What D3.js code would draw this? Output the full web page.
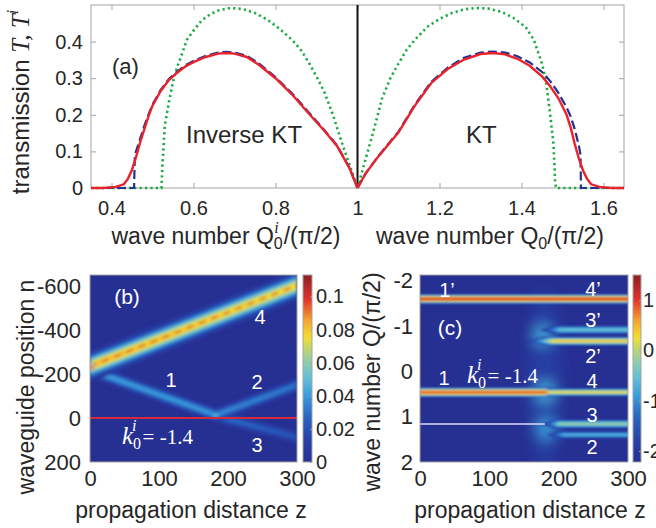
<!DOCTYPE html>
<html><head><meta charset="utf-8">
<script src="https://cdn.jsdelivr.net/npm/d3@7"></script>
<style>
body{margin:0;background:#fff;}
svg text{font-family:"Liberation Sans",Arial,Helvetica,sans-serif;}
</style></head><body>
<svg id="fig" width="656" height="528"></svg>
<script>
// ================= DATA =================
// Panel (a): transmission vs wave number
const aXTicks = [0.4, 0.6, 0.8, 1, 1.2, 1.4, 1.6];
const aYTicks = [0, 0.1, 0.2, 0.3, 0.4];
// left half: Q0^i (inverse KT); right half: Q0 (KT)
const redLeft = [[0.35,0],[0.38,0],[0.41,0.003],[0.43,0.01],[0.44,0.025],[0.45,0.05],[0.46,0.085],[0.47,0.125],[0.48,0.16],[0.49,0.195],[0.50,0.225],[0.52,0.265],[0.54,0.295],[0.56,0.315],[0.58,0.332],[0.60,0.344],[0.63,0.358],[0.66,0.367],[0.68,0.369],[0.70,0.367],[0.73,0.358],[0.76,0.336],[0.80,0.30],[0.84,0.256],[0.88,0.205],[0.92,0.155],[0.95,0.115],[0.98,0.055],[1.0,0]];
const blueLeft = [[0.35,0],[0.455,0],[0.457,0.09],[0.47,0.135],[0.48,0.17],[0.49,0.2],[0.50,0.228],[0.52,0.268],[0.54,0.298],[0.56,0.318],[0.58,0.335],[0.60,0.347],[0.63,0.361],[0.66,0.37],[0.68,0.372],[0.70,0.37],[0.73,0.361],[0.76,0.34],[0.80,0.303],[0.84,0.259],[0.88,0.208],[0.92,0.157],[0.95,0.117],[0.98,0.056],[1.0,0]];
const greenLeft = [[0.35,0],[0.522,0],[0.524,0.06],[0.53,0.17],[0.54,0.235],[0.55,0.29],[0.56,0.33],[0.57,0.36],[0.584,0.405],[0.60,0.43],[0.62,0.458],[0.64,0.474],[0.66,0.485],[0.69,0.492],[0.72,0.489],[0.75,0.478],[0.78,0.46],[0.81,0.435],[0.84,0.405],[0.86,0.38],[0.88,0.345],[0.90,0.305],[0.92,0.26],[0.94,0.2],[0.96,0.13],[0.98,0.065],[1.0,0]];
const redRight = [[1.0,0],[1.02,0.04],[1.05,0.085],[1.08,0.125],[1.10,0.152],[1.14,0.225],[1.18,0.287],[1.22,0.325],[1.26,0.351],[1.30,0.366],[1.33,0.369],[1.36,0.365],[1.39,0.353],[1.42,0.334],[1.45,0.305],[1.47,0.278],[1.49,0.245],[1.51,0.2],[1.52,0.165],[1.53,0.12],[1.54,0.08],[1.55,0.048],[1.56,0.025],[1.57,0.01],[1.59,0.003],[1.62,0],[1.65,0]];
const blueRight = [[1.0,0],[1.02,0.04],[1.05,0.086],[1.08,0.127],[1.10,0.154],[1.14,0.228],[1.18,0.29],[1.22,0.329],[1.26,0.356],[1.30,0.37],[1.33,0.373],[1.36,0.37],[1.39,0.36],[1.42,0.343],[1.45,0.317],[1.47,0.292],[1.49,0.26],[1.51,0.22],[1.52,0.195],[1.53,0.16],[1.54,0.115],[1.544,0.09],[1.545,0],[1.65,0]];
const greenRight = [[1.0,0],[1.02,0.08],[1.04,0.16],[1.06,0.245],[1.08,0.30],[1.10,0.34],[1.12,0.378],[1.14,0.405],[1.17,0.44],[1.20,0.462],[1.23,0.478],[1.26,0.488],[1.29,0.492],[1.32,0.49],[1.35,0.482],[1.38,0.465],[1.41,0.44],[1.43,0.405],[1.45,0.34],[1.46,0.29],[1.47,0.2],[1.478,0.12],[1.482,0.02],[1.484,0],[1.65,0]];

// Panel (b): intensity |psi_n(z)|^2
const bXTicks = [0, 100, 200, 300];
const bYTicks = [-600, -400, -200, 0, 200];
const bCbTicks = [0, 0.02, 0.04, 0.06, 0.08, 0.1];
const bCbLabels = ["0", "0.02", "0.04", "0.06", "0.08", "0.1"];
const bCbMax = 0.113;
// beams: start/end (z, n), peak intensity at start/end, gaussian width (n units), peak of core streaks
const beams = [
  {name:"3", z0:181, n0:-10, z1:300, n1:88,   p0:0.03,  p1:0.022, s:17, streak:0},
  {name:"2", z0:181, n0:-12, z1:300, n1:-150, p0:0.038, p1:0.033, s:17, streak:0},
  {name:"1", z0:0,   n0:-218, z1:182, n1:-14, p0:0.043, p1:0.041, s:17, streak:0},
  {name:"4", z0:0,   n0:-235, z1:300, n1:-603, p0:0.085, p1:0.079, s:30, streak:0.1}
];
const bSpots = [{z:182, n:-12, v:0.052, rz:12, rn:16}, {z:2, n:-230, v:0.105, rz:6, rn:24}];
const bDefectN = 0;

// Panel (c): log10 of spectrum intensity
const cXTicks = [0, 100, 200, 300];
const cYTicks = [-2, -1, 0, 1, 2];
const cCbTicks = [-2, -1, 0, 1];
const cCbMin = -2.22, cCbMax = 1.5;
const bands = [
  {name:"1'4'", q:-1.60, z0:0,   z1:300, peak:1.2,   hw:0.11, taper:0},
  {name:"3'",   q:-0.92, z0:168, z1:300, peak:-0.4,  hw:0.1,  taper:35},
  {name:"2'",   q:-0.67, z0:148, z1:300, peak:0.5,   hw:0.1,  taper:45},
  {name:"1",    q:0.46,  z0:0,   z1:186, peak:1.05,  hw:0.11, taper:0},
  {name:"4",    q:0.46,  z0:186, z1:300, peak:0.35,  hw:0.09, taper:0},
  {name:"3",    q:1.16,  z0:172, z1:300, peak:-0.1,  hw:0.1,  taper:30},
  {name:"2",    q:1.40,  z0:178, z1:300, peak:-0.6,  hw:0.085, taper:30}
];
const cGlows = [
  {z:180, q:0.2,   rz:24, rq:2.0,  v:-1.9},
  {z:180, q:0.46,  rz:14, rq:0.25, v:-0.8},
  {z:176, q:-0.8,  rz:14, rq:0.22, v:-0.8},
  {z:182, q:1.26,  rz:14, rq:0.24, v:-0.9}
];
const cDefectQ = 1.16, cDefectZ1 = 180;

// ================= STYLE =================
const sans = '"Liberation Sans", Arial, Helvetica, sans-serif';
const serif = '"Liberation Serif", "Times New Roman", Times, serif';
const frameCol = "#a3a3a3", textCol = "#262626";
const cmapScale = d3.scaleLinear()
  .domain([0, 0.12, 0.25, 0.36, 0.45, 0.53, 0.61, 0.67, 0.76, 0.87, 1])
  .range(["#262f92","#2841aa","#2b68c4","#3b9edc","#62bfd8","#8ecbb0","#c3d66a","#f5de2d","#f5a030","#e3302b","#8a2222"])
  .clamp(true);
const cmap = t => cmapScale(t);

const svg = d3.select("#fig");
const defs = svg.append("defs");
const grad = defs.append("linearGradient").attr("id","cmapGrad").attr("x1",0).attr("y1",1).attr("x2",0).attr("y2",0);
d3.range(0, 1.0001, 0.02).forEach(t => grad.append("stop").attr("offset", t).attr("stop-color", cmap(t)));
defs.append("filter").attr("id","blur1").attr("x","-20%").attr("y","-20%").attr("width","140%").attr("height","140%")
  .append("feGaussianBlur").attr("stdDeviation",1.4);
defs.append("filter").attr("id","blurC").attr("x","-20%").attr("y","-20%").attr("width","140%").attr("height","140%")
  .append("feGaussianBlur").attr("stdDeviation","1.6 0.8");
defs.append("filter").attr("id","blur6").attr("x","-50%").attr("y","-50%").attr("width","200%").attr("height","200%")
  .append("feGaussianBlur").attr("stdDeviation",7);

function styleAxis(g, fs){
  g.select(".domain").remove();
  g.selectAll(".tick line").attr("stroke", frameCol);
  g.selectAll(".tick text").attr("fill", textCol).style("font-size", fs+"px").style("font-family", sans);
}
const fmt = d => String(d);
const none = () => "";

// ================= PANEL (a) =================
const ax = d3.scaleLinear().domain([0.35, 1.65]).range([91, 624]);
const ay = d3.scaleLinear().domain([0, 0.5]).range([188, 5]);
const gA = svg.append("g");
styleAxis(gA.append("g").attr("transform","translate(0,188)")
  .call(d3.axisBottom(ax).tickValues(aXTicks).tickFormat(fmt).tickSizeInner(-5).tickSizeOuter(0).tickPadding(13)), 20);
styleAxis(gA.append("g").attr("transform","translate(0,5)")
  .call(d3.axisTop(ax).tickValues(aXTicks).tickFormat(none).tickSizeInner(-5).tickSizeOuter(0)), 20);
styleAxis(gA.append("g").attr("transform","translate(91,0)")
  .call(d3.axisLeft(ay).tickValues(aYTicks).tickFormat(fmt).tickSizeInner(-5).tickSizeOuter(0).tickPadding(8)), 20);
styleAxis(gA.append("g").attr("transform","translate(624,0)")
  .call(d3.axisRight(ay).tickValues(aYTicks).tickFormat(none).tickSizeInner(-5).tickSizeOuter(0)), 20);
gA.append("rect").attr("x",91).attr("y",5).attr("width",533).attr("height",183).attr("fill","none").attr("stroke",frameCol);

const lineA = d3.line().x(d => ax(d[0])).y(d => ay(d[1]));
const gCurves = gA.append("g");
gCurves.append("line").attr("x1",ax(1)).attr("x2",ax(1)).attr("y1",ay(0)).attr("y2",ay(0.5)).attr("stroke","#111").attr("stroke-width",2);
[greenLeft, greenRight].forEach(d => gCurves.append("path").attr("d", lineA(d)).attr("fill","none")
  .attr("stroke","#1daa44").attr("stroke-width",2.6).attr("stroke-dasharray","2.2,3.2"));
[blueLeft, blueRight].forEach(d => gCurves.append("path").attr("d", lineA(d)).attr("fill","none")
  .attr("stroke","#22308f").attr("stroke-width",2.2).attr("stroke-dasharray","9,4"));
[redLeft, redRight].forEach(d => gCurves.append("path").attr("d", lineA(d)).attr("fill","none")
  .attr("stroke","#e8232c").attr("stroke-width",2.4));

gA.append("text").attr("x",112).attr("y",74).style("font-size","22px").attr("fill",textCol).text("(a)");
gA.append("text").attr("x",186).attr("y",143).style("font-size","24px").attr("fill",textCol).text("Inverse KT");
gA.append("text").attr("x",466).attr("y",143).style("font-size","24px").attr("fill",textCol).text("KT");

const ylA = gA.append("text").attr("transform","translate(29,102) rotate(-90)").attr("text-anchor","middle")
  .style("font-size","24px").attr("fill",textCol);
ylA.append("tspan").text("transmission ");
ylA.append("tspan").style("font-family",serif).style("font-style","italic").style("font-size","25px").text("T, T");
ylA.append("tspan").style("font-family",serif).style("font-style","italic").style("font-size","16px").attr("dy",-11).text("i");

const xlA1 = gA.append("text").attr("x",226).attr("y",244).attr("text-anchor","middle").style("font-size","23px").attr("fill",textCol);
xlA1.append("tspan").text("wave number Q");
xlA1.append("tspan").attr("dy",5).style("font-size","16px").text("0");
xlA1.append("tspan").attr("dx",-8.5).attr("dy",-16).style("font-size","16px").style("font-family",serif).style("font-style","italic").text("i");
xlA1.append("tspan").attr("dy",11).attr("dx",5).text("/(π/2)");
const xlA2 = gA.append("text").attr("x",490).attr("y",244).attr("text-anchor","middle").style("font-size","23px").attr("fill",textCol);
xlA2.append("tspan").text("wave number Q");
xlA2.append("tspan").attr("dy",5).style("font-size","16px").text("0");
xlA2.append("tspan").attr("dy",-5).text("/(π/2)");

// ================= PANEL (b) =================
const bx = d3.scaleLinear().domain([0, 300]).range([90, 297]);
const by = d3.scaleLinear().domain([-650, 200]).range([275, 462]);
const gB = svg.append("g");
defs.append("clipPath").attr("id","clipB").append("rect").attr("x",90).attr("y",275).attr("width",207).attr("height",187);
const gBi = gB.append("g").attr("clip-path","url(#clipB)");
gBi.append("rect").attr("x",90).attr("y",275).attr("width",207).attr("height",187).attr("fill",cmap(0));
const gBeams = gBi.append("g").attr("filter","url(#blur1)");
const bLevels = d3.range(0.004, bCbMax, 0.003);
const pathB = d3.line().x(d => bx(d[0])).y(d => by(d[1]));
beams.forEach(b => {
  bLevels.forEach(v => {
    const f0 = v < b.p0 ? Math.sqrt(2*Math.log(b.p0/v)) * b.s : 0;
    const f1 = v < b.p1 ? Math.sqrt(2*Math.log(b.p1/v)) * b.s : 0;
    if (f0 <= 0 && f1 <= 0) return;
    const pts = [[b.z0, b.n0 - f0], [b.z1, b.n1 - f1], [b.z1, b.n1 + f1], [b.z0, b.n0 + f0]];
    gBeams.append("path").attr("d", pathB(pts) + "Z").attr("fill", cmap(v / bCbMax));
  });
  if (b.streak > 0) {
    gBeams.append("path").attr("d", pathB([[b.z0, b.n0], [b.z1, b.n1]])).attr("fill","none")
      .attr("stroke", cmap(b.streak / bCbMax)).attr("stroke-width", 1.8).attr("stroke-dasharray","7,6").attr("opacity",0.85);
  }
});
bSpots.forEach(s => {
  bLevels.filter(v => v < s.v && v > 0.03).forEach(v => {
    const f = Math.sqrt(1 - v / s.v);
    gBeams.append("ellipse").attr("cx", bx(s.z)).attr("cy", by(s.n))
      .attr("rx", bx(s.z + s.rz*f) - bx(s.z)).attr("ry", by(s.n + s.rn*f) - by(s.n)).attr("fill", cmap(v / bCbMax));
  });
});
gBi.append("line").attr("x1",bx(0)).attr("x2",bx(300)).attr("y1",by(bDefectN)).attr("y2",by(bDefectN))
  .attr("stroke","#d42a3c").attr("stroke-width",2);
gB.append("rect").attr("x",90).attr("y",275).attr("width",207).attr("height",187).attr("fill","none").attr("stroke",frameCol);
styleAxis(gB.append("g").attr("transform","translate(0,462)")
  .call(d3.axisBottom(bx).tickValues(bXTicks).tickFormat(fmt).tickSize(0).tickPadding(8)), 22);
styleAxis(gB.append("g").attr("transform","translate(90,0)")
  .call(d3.axisLeft(by).tickValues(bYTicks).tickFormat(fmt).tickSize(0).tickPadding(9)), 22);
// colorbar (b)
const bcy = d3.scaleLinear().domain([0, bCbMax]).range([462, 275]);
gB.append("rect").attr("x",303).attr("y",275).attr("width",9).attr("height",187).attr("fill","url(#cmapGrad)").attr("stroke",frameCol);
styleAxis(gB.append("g").attr("transform","translate(312,0)")
  .call(d3.axisRight(bcy).tickValues(bCbTicks).tickFormat((d,i) => bCbLabels[i]).tickSizeInner(-2).tickSizeOuter(0).tickPadding(4)), 20);
// labels (b)
const wTxt = (g, x, y, t, fs) => g.append("text").attr("x",x).attr("y",y).attr("text-anchor","middle")
  .style("font-size",(fs||20)+"px").attr("fill","#fff").text(t);
wTxt(gB, 127, 304, "(b)", 21);
wTxt(gB, 260, 324, "4");
wTxt(gB, 171, 387, "1");
wTxt(gB, 257, 389, "2");
wTxt(gB, 257, 452, "3");
function kLabel(g, x, y){
  const t = g.append("text").attr("x",x).attr("y",y).attr("fill","#fff").style("font-family",serif).style("font-size","21px");
  t.append("tspan").style("font-style","italic").style("font-size","25px").text("k");
  t.append("tspan").attr("dy",5).style("font-size","16px").text("0");
  t.append("tspan").attr("dx",-9).attr("dy",-18).style("font-size","16px").style("font-style","italic").text("i");
  t.append("tspan").attr("dx",6).attr("dy",13).text("= -1.4");
}
kLabel(gB, 122, 444);
gB.append("text").attr("transform","translate(34,387) rotate(-90)").attr("text-anchor","middle")
  .style("font-size","23px").attr("fill",textCol).text("waveguide position n");
gB.append("text").attr("x",191).attr("y",518).attr("text-anchor","middle")
  .style("font-size","23px").attr("fill",textCol).text("propagation distance z");

// ================= PANEL (c) =================
const cx = d3.scaleLinear().domain([0, 300]).range([420, 628]);
const cy = d3.scaleLinear().domain([-2.13, 2]).range([275, 462]);
const cct = v => (v - cCbMin) / (cCbMax - cCbMin);
const gC = svg.append("g");
defs.append("clipPath").attr("id","clipC").append("rect").attr("x",420).attr("y",275).attr("width",208).attr("height",187);
const gCi = gC.append("g").attr("clip-path","url(#clipC)");
gCi.append("rect").attr("x",420).attr("y",275).attr("width",208).attr("height",187).attr("fill",cmap(0));
const gGlow = gCi.append("g").attr("filter","url(#blur6)");
cGlows.forEach(s => gGlow.append("ellipse").attr("cx",cx(s.z)).attr("cy",cy(s.q))
  .attr("rx", cx(s.z + s.rz) - cx(s.z)).attr("ry", cy(s.q + s.rq) - cy(s.q)).attr("fill", cmap(cct(s.v))));
const gBands = gCi.append("g").attr("filter","url(#blurC)");
const cLevels = d3.range(cCbMin + 0.25, cCbMax, 0.1);
const pathC = d3.line().x(d => cx(d[0])).y(d => cy(d[1]));
bands.forEach(b => {
  cLevels.filter(L => L < b.peak).forEach(L => {
    const f = (b.peak - L) / (b.peak - cCbMin);
    const w = b.hw * Math.pow(f, 0.65);
    const zTip = b.z0 + b.taper * (1 - f);
    const zFull = b.z0 + b.taper * (1 - f * 0.3);
    let pts;
    if (b.taper > 0) pts = [[zTip, b.q], [zFull, b.q - w], [b.z1 + 2, b.q - w], [b.z1 + 2, b.q + w], [zFull, b.q + w]];
    else pts = [[b.z0 - 2, b.q - w], [b.z1 + 2, b.q - w], [b.z1 + 2, b.q + w], [b.z0 - 2, b.q + w]];
    gBands.append("path").attr("d", pathC(pts) + "Z").attr("fill", cmap(cct(L)));
  });
});
gCi.append("line").attr("x1",cx(0)).attr("x2",cx(cDefectZ1)).attr("y1",cy(cDefectQ)).attr("y2",cy(cDefectQ))
  .attr("stroke","#dcdcf0").attr("stroke-width",1.6);
gC.append("rect").attr("x",420).attr("y",275).attr("width",208).attr("height",187).attr("fill","none").attr("stroke",frameCol);
styleAxis(gC.append("g").attr("transform","translate(0,462)")
  .call(d3.axisBottom(cx).tickValues(cXTicks).tickFormat(fmt).tickSize(0).tickPadding(8)), 22);
styleAxis(gC.append("g").attr("transform","translate(420,0)")
  .call(d3.axisLeft(cy).tickValues(cYTicks).tickFormat(fmt).tickSize(0).tickPadding(7)), 22);
const ccy = d3.scaleLinear().domain([cCbMin, cCbMax]).range([462, 275]);
gC.append("rect").attr("x",633).attr("y",275).attr("width",8).attr("height",187).attr("fill","url(#cmapGrad)").attr("stroke",frameCol);
styleAxis(gC.append("g").attr("transform","translate(641,0)")
  .call(d3.axisRight(ccy).tickValues(cCbTicks).tickFormat(fmt).tickSizeInner(-2).tickSizeOuter(0).tickPadding(2)), 20);
wTxt(gC, 447, 297, "1’");
wTxt(gC, 450, 335, "(c)", 21);
wTxt(gC, 444, 385, "1");
wTxt(gC, 593, 296, "4’");
wTxt(gC, 593, 327, "3’");
wTxt(gC, 593, 363, "2’");
wTxt(gC, 592, 388, "4");
wTxt(gC, 592, 422, "3");
wTxt(gC, 592, 454, "2");
kLabel(gC, 467, 383);
gC.append("text").attr("transform","translate(380,382) rotate(-90)").attr("text-anchor","middle")
  .style("font-size","23px").attr("fill",textCol).text("wave number Q/(π/2)");
gC.append("text").attr("x",530).attr("y",518).attr("text-anchor","middle")
  .style("font-size","23px").attr("fill",textCol).text("propagation distance z");
</script>
</body></html>
